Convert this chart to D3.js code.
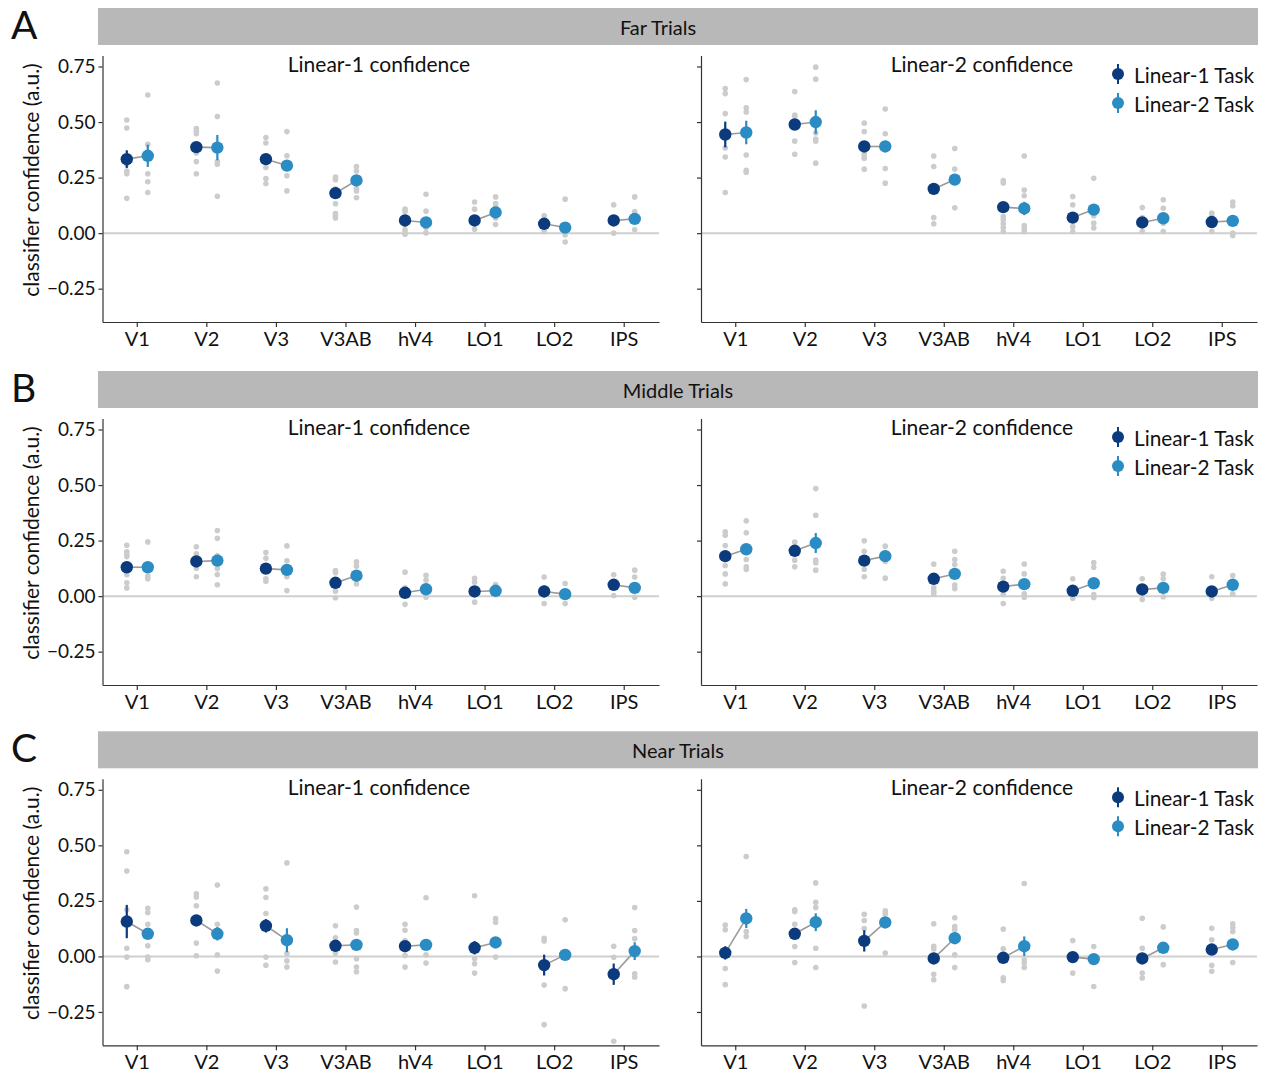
<!DOCTYPE html>
<html>
<head>
<meta charset="utf-8">
<title>Classifier confidence by ROI</title>
<script src="https://cdn.jsdelivr.net/npm/d3@7"></script>
<style>
    body { margin: 0; background: #fff; }
    svg { font-family: Lato, sans-serif; }
    .axis text { font-size: 19px; fill: #111; font-family: Lato, sans-serif; }
    .axis.xax text { font-size: 20px; }
    .axis path, .axis line { stroke: #333; stroke-width: 1.2px; }
</style>
</head>
<body>
<svg id="fig" width="1263" height="1073"></svg>
<script>
// ---- data ----
const rois = ["V1", "V2", "V3", "V3AB", "hV4", "LO1", "LO2", "IPS"];
const rowTitles = ["Far Trials", "Middle Trials", "Near Trials"];
const rowLetters = ["A", "B", "C"];
const panelTitles = ["Linear-1 confidence", "Linear-2 confidence"];
const taskNames = ["Linear-1 Task", "Linear-2 Task"];
const yTicks = [-0.25, 0, 0.25, 0.5, 0.75];

// Far trials, Linear-1 confidence
const far1_t1_mean = [0.333, 0.387, 0.333, 0.180, 0.057, 0.057, 0.042, 0.057];
const far1_t1_se   = [0.040, 0.020, 0.020, 0.020, 0.015, 0.015, 0.015, 0.015];
const far1_t2_mean = [0.348, 0.385, 0.304, 0.237, 0.048, 0.093, 0.025, 0.064];
const far1_t2_se   = [0.050, 0.057, 0.020, 0.020, 0.015, 0.020, 0.015, 0.020];
const far1_t1_subj = [
    [0.509, 0.473, 0.279, 0.267, 0.157, 0.31, 0.34],
    [0.471, 0.459, 0.447, 0.361, 0.322, 0.267, 0.38],
    [0.43, 0.406, 0.295, 0.246, 0.223, 0.34, 0.33],
    [0.252, 0.24, 0.132, 0.088, 0.078, 0.068, 0.2],
    [0.108, 0.097, 0.037, 0.015, 0.003, -0.005, 0.06],
    [0.14, 0.108, 0.018, 0.05, 0.06],
    [0.078, 0.007, 0.04, 0.045],
    [0.127, 0.0, 0.05, 0.06]];
const far1_t2_subj = [
    [0.622, 0.40, 0.267, 0.231, 0.183, 0.35],
    [0.676, 0.525, 0.322, 0.31, 0.166, 0.38],
    [0.457, 0.348, 0.258, 0.19, 0.30],
    [0.30, 0.28, 0.2, 0.19, 0.159, 0.24],
    [0.175, 0.099, 0.025, 0.001, 0.05],
    [0.163, 0.133, 0.12, 0.068, 0.039],
    [0.153, -0.008, -0.04, 0.03],
    [0.163, 0.097, 0.085, 0.015]];

// Far trials, Linear-2 confidence
const far2_t1_mean = [0.444, 0.489, 0.390, 0.199, 0.117, 0.070, 0.048, 0.050];
const far2_t1_se   = [0.058, 0.020, 0.020, 0.025, 0.020, 0.015, 0.015, 0.015];
const far2_t2_mean = [0.453, 0.500, 0.390, 0.241, 0.111, 0.106, 0.067, 0.055];
const far2_t2_se   = [0.053, 0.053, 0.020, 0.020, 0.030, 0.020, 0.020, 0.015];
const far2_t1_subj = [
    [0.651, 0.628, 0.538, 0.383, 0.343, 0.183],
    [0.637, 0.532, 0.526, 0.414, 0.355],
    [0.495, 0.457, 0.358, 0.348, 0.337, 0.288],
    [0.347, 0.30, 0.07, 0.042, 0.2],
    [0.237, 0.226, 0.075, 0.06, 0.042, 0.025, 0.007],
    [0.165, 0.127, 0.03, 0.007],
    [0.115, 0.07, 0.007],
    [0.09, 0.078, 0.007]];
const far2_t2_subj = [
    [0.691, 0.564, 0.545, 0.352, 0.283, 0.274],
    [0.747, 0.693, 0.451, 0.424, 0.414, 0.315],
    [0.559, 0.447, 0.291, 0.225],
    [0.381, 0.289, 0.114],
    [0.347, 0.194, 0.168, 0.034, 0.019, 0.007],
    [0.247, 0.078, 0.045, 0.023],
    [0.15, 0.112, 0.045, 0.007],
    [0.14, 0.123, 0.0, -0.011]];

// Middle trials, Linear-1 confidence
const mid1_t1_mean = [0.130, 0.156, 0.124, 0.060, 0.015, 0.021, 0.021, 0.051];
const mid1_t1_se   = [0.012, 0.015, 0.015, 0.015, 0.012, 0.012, 0.012, 0.012];
const mid1_t2_mean = [0.130, 0.160, 0.118, 0.092, 0.031, 0.024, 0.009, 0.037];
const mid1_t2_se   = [0.012, 0.020, 0.015, 0.015, 0.012, 0.012, 0.012, 0.012];
const mid1_t1_subj = [
    [0.229, 0.2, 0.187, 0.178, 0.096, 0.06, 0.037],
    [0.222, 0.19, 0.175, 0.126, 0.087],
    [0.196, 0.17, 0.078, 0.067],
    [0.115, 0.105, 0.022, -0.007],
    [0.108, 0.037, -0.037],
    [0.08, 0.063, -0.027],
    [0.086, 0.037, -0.033],
    [0.096, 0.003]];
const mid1_t2_subj = [
    [0.244, 0.09, 0.078],
    [0.295, 0.26, 0.183, 0.124, 0.097, 0.051],
    [0.226, 0.159, 0.087, 0.025],
    [0.154, 0.135, 0.055],
    [0.094, 0.072, -0.005],
    [0.052],
    [0.057, -0.033],
    [0.117, 0.086, -0.005]];

// Middle trials, Linear-2 confidence
const mid2_t1_mean = [0.180, 0.204, 0.160, 0.078, 0.043, 0.024, 0.030, 0.021];
const mid2_t1_se   = [0.020, 0.015, 0.015, 0.020, 0.012, 0.012, 0.012, 0.012];
const mid2_t2_mean = [0.211, 0.239, 0.180, 0.100, 0.054, 0.058, 0.037, 0.051];
const mid2_t2_se   = [0.020, 0.045, 0.015, 0.020, 0.015, 0.020, 0.012, 0.012];
const mid2_t1_subj = [
    [0.29, 0.274, 0.228, 0.138, 0.1, 0.055],
    [0.243, 0.162, 0.132],
    [0.249, 0.202, 0.12, 0.087],
    [0.144, 0.037, 0.021, 0.01],
    [0.112, 0.08, 0.007, -0.033],
    [0.078, -0.01],
    [0.078, -0.015],
    [0.087, -0.01]];
const mid2_t2_subj = [
    [0.339, 0.285, 0.165, 0.132, 0.12],
    [0.484, 0.364, 0.162, 0.15, 0.117],
    [0.225, 0.156, 0.081],
    [0.202, 0.165, 0.142, 0.05, 0.034],
    [0.144, 0.1, 0.01, -0.005],
    [0.151, 0.13, 0.007, -0.006],
    [0.099, 0.078, -0.003],
    [0.093, 0.01]];

// Near trials, Linear-1 confidence
const near1_t1_mean = [0.157, 0.162, 0.138, 0.048, 0.046, 0.039, -0.039, -0.080];
const near1_t1_se   = [0.075, 0.025, 0.030, 0.015, 0.015, 0.030, 0.047, 0.048];
const near1_t2_mean = [0.102, 0.102, 0.073, 0.052, 0.052, 0.063, 0.007, 0.024];
const near1_t2_se   = [0.020, 0.030, 0.054, 0.020, 0.020, 0.015, 0.020, 0.040];
const near1_t1_subj = [
    [0.471, 0.384, 0.21, 0.037, -0.003, -0.136],
    [0.282, 0.268, 0.228, 0.06, 0.003],
    [0.304, 0.265, 0.193, -0.003, -0.04],
    [0.138, 0.084, 0.015, -0.025],
    [0.145, 0.118, 0.072, 0.004, -0.048],
    [0.273, -0.009, -0.033, -0.075],
    [0.082, 0.07, -0.129, -0.307],
    [0.046, -0.004, -0.382]];
const near1_t2_subj = [
    [0.217, 0.198, 0.145, 0.048, -0.003, -0.015],
    [0.321, 0.145, 0.007, -0.066],
    [0.421, 0.013, -0.02, -0.048],
    [0.222, 0.117, 0.105, -0.01, -0.048, -0.069],
    [0.264, 0.007, -0.03],
    [0.17, 0.154, -0.003],
    [0.165, -0.145],
    [0.22, 0.117, 0.08, -0.078, -0.094]];

// Near trials, Linear-2 confidence
const near2_t1_mean = [0.016, 0.102, 0.070, -0.009, -0.006, -0.003, -0.009, 0.031];
const near2_t1_se   = [0.030, 0.025, 0.048, 0.025, 0.015, 0.012, 0.025, 0.012];
const near2_t2_mean = [0.171, 0.154, 0.153, 0.082, 0.046, -0.012, 0.039, 0.054];
const near2_t2_se   = [0.043, 0.040, 0.015, 0.025, 0.044, 0.012, 0.015, 0.015];
const near2_t1_subj = [
    [0.141, 0.12, -0.054, -0.127],
    [0.21, 0.202, 0.145, 0.045, -0.027],
    [0.19, 0.162, 0.126, -0.223],
    [0.147, 0.046, 0.034, -0.08, -0.105],
    [0.123, 0.034, -0.096, -0.108],
    [0.072, -0.075],
    [0.172, 0.037, -0.075, -0.097],
    [0.127, 0.075, -0.04, -0.067]];
const near2_t2_subj = [
    [0.45, 0.112, 0.09],
    [0.331, 0.244, 0.22, 0.037, -0.05],
    [0.205, 0.192, 0.015],
    [0.174, 0.135, 0.12, 0.007, -0.05],
    [0.328, -0.015, -0.03, -0.05],
    [0.045, -0.135],
    [0.133, -0.037],
    [0.147, 0.13, 0.112, -0.027]];

// grid[row][col] = [task1, task2], each {mean, se, subj}
const grid = [
    [[{mean: far1_t1_mean, se: far1_t1_se, subj: far1_t1_subj}, {mean: far1_t2_mean, se: far1_t2_se, subj: far1_t2_subj}],
     [{mean: far2_t1_mean, se: far2_t1_se, subj: far2_t1_subj}, {mean: far2_t2_mean, se: far2_t2_se, subj: far2_t2_subj}]],
    [[{mean: mid1_t1_mean, se: mid1_t1_se, subj: mid1_t1_subj}, {mean: mid1_t2_mean, se: mid1_t2_se, subj: mid1_t2_subj}],
     [{mean: mid2_t1_mean, se: mid2_t1_se, subj: mid2_t1_subj}, {mean: mid2_t2_mean, se: mid2_t2_se, subj: mid2_t2_subj}]],
    [[{mean: near1_t1_mean, se: near1_t1_se, subj: near1_t1_subj}, {mean: near1_t2_mean, se: near1_t2_se, subj: near1_t2_subj}],
     [{mean: near2_t1_mean, se: near2_t1_se, subj: near2_t1_subj}, {mean: near2_t2_mean, se: near2_t2_se, subj: near2_t2_subj}]]
];

// ---- layout ----
const rowShift = [0, 363, 723.3];
const stripTitleX = [658, 678, 678];
const colRange = [[102.5, 659], [701, 1257]];
const panelTitleX = [379, 982];
const taskColor = ["#0b3b7c", "#2a8cc3"];

const y = d3.scaleLinear().domain([-0.4, 0.8]).range([322, 55.4]);
const dodge = d3.scalePoint().domain(taskNames).range([-10.5, 10.5]);

const svg = d3.select('#fig');

grid.forEach((row, r) => {
    const g = svg.append('g').attr('transform', `translate(0,${rowShift[r]})`);

    // row letter + strip
    g.append('text').attr('x', 11).attr('y', 39)
        .style('font-size', '39px').style('fill', '#111')
        .text(rowLetters[r]);
    g.append('rect').attr('x', 98).attr('y', 8).attr('width', 1160).attr('height', 37)
        .attr('fill', '#b8b8b8');
    g.append('text').attr('x', stripTitleX[r]).attr('y', 27)
        .attr('text-anchor', 'middle').attr('dominant-baseline', 'central')
        .style('font-size', '20px').style('fill', '#111')
        .text(rowTitles[r]);

    // y axis title
    g.append('text')
        .attr('transform', `translate(30,180) rotate(-90)`)
        .attr('text-anchor', 'middle').attr('dominant-baseline', 'central')
        .style('font-size', '21px').style('fill', '#111')
        .text('classifier confidence (a.u.)');

    row.forEach((panel, c) => {
        const x = d3.scaleBand().domain(rois).range(colRange[c]);
        const cx = (roi, task) => x(roi) + x.bandwidth() / 2 + dodge(task);
        const p = g.append('g');

        // zero line
        p.append('line')
            .attr('x1', colRange[c][0]).attr('x2', colRange[c][1])
            .attr('y1', y(0)).attr('y2', y(0))
            .attr('stroke', '#cfcfcf').attr('stroke-width', 2);

        // axes
        const yAxis = d3.axisLeft(y).tickValues(yTicks).tickSize(4).tickPadding(3).tickSizeOuter(0)
            .tickFormat(c === 0 ? d3.format('.2f') : () => '');
        p.append('g').attr('class', 'axis')
            .attr('transform', `translate(${colRange[c][0]},0)`)
            .call(yAxis);
        p.append('g').attr('class', 'axis xax')
            .attr('transform', `translate(0,${y.range()[0]})`)
            .call(d3.axisBottom(x).tickSize(5).tickPadding(5).tickSizeOuter(0));

        // panel title
        p.append('text')
            .attr('x', panelTitleX[c]).attr('y', 63)
            .attr('text-anchor', 'middle').attr('dominant-baseline', 'central')
            .style('font-size', '21px').style('fill', '#111')
            .text(panelTitles[c]);

        // individual subject dots
        panel.forEach((s, t) => {
            const dots = [];
            s.subj.forEach((vals, i) => vals.forEach(v => dots.push({roi: rois[i], v})));
            p.append('g').selectAll('circle').data(dots).join('circle')
                .attr('cx', d => cx(d.roi, taskNames[t]))
                .attr('cy', d => y(d.v))
                .attr('r', 2.8)
                .attr('fill', '#cccccc');
        });

        // connecting lines between the two tasks
        p.append('g').selectAll('line').data(rois).join('line')
            .attr('x1', d => cx(d, taskNames[0]))
            .attr('x2', d => cx(d, taskNames[1]))
            .attr('y1', (d, i) => y(panel[0].mean[i]))
            .attr('y2', (d, i) => y(panel[1].mean[i]))
            .attr('stroke', '#9a9a9a').attr('stroke-width', 1.6);

        // error bars and means
        panel.forEach((s, t) => {
            const gg = p.append('g');
            gg.selectAll('line').data(rois).join('line')
                .attr('x1', d => cx(d, taskNames[t]))
                .attr('x2', d => cx(d, taskNames[t]))
                .attr('y1', (d, i) => y(s.mean[i] - s.se[i]))
                .attr('y2', (d, i) => y(s.mean[i] + s.se[i]))
                .attr('stroke', taskColor[t]).attr('stroke-width', 2.2);
            gg.selectAll('circle').data(rois).join('circle')
                .attr('cx', d => cx(d, taskNames[t]))
                .attr('cy', (d, i) => y(s.mean[i]))
                .attr('r', 6.2)
                .attr('fill', taskColor[t]);
        });

        // legend in right panels
        if (c === 1) {
            const lg = p.append('g').selectAll('g').data(taskNames).join('g')
                .attr('transform', (d, i) => `translate(1118,${74 + i * 29})`);
            lg.append('line').attr('y1', -10).attr('y2', 10)
                .attr('stroke', (d, i) => taskColor[i]).attr('stroke-width', 2);
            lg.append('circle').attr('r', 6).attr('fill', (d, i) => taskColor[i]);
            lg.append('text').attr('x', 16).attr('dominant-baseline', 'central')
                .style('font-size', '20.8px').style('fill', '#111')
                .text(d => d);
        }
    });
});
</script>
</body>
</html>
